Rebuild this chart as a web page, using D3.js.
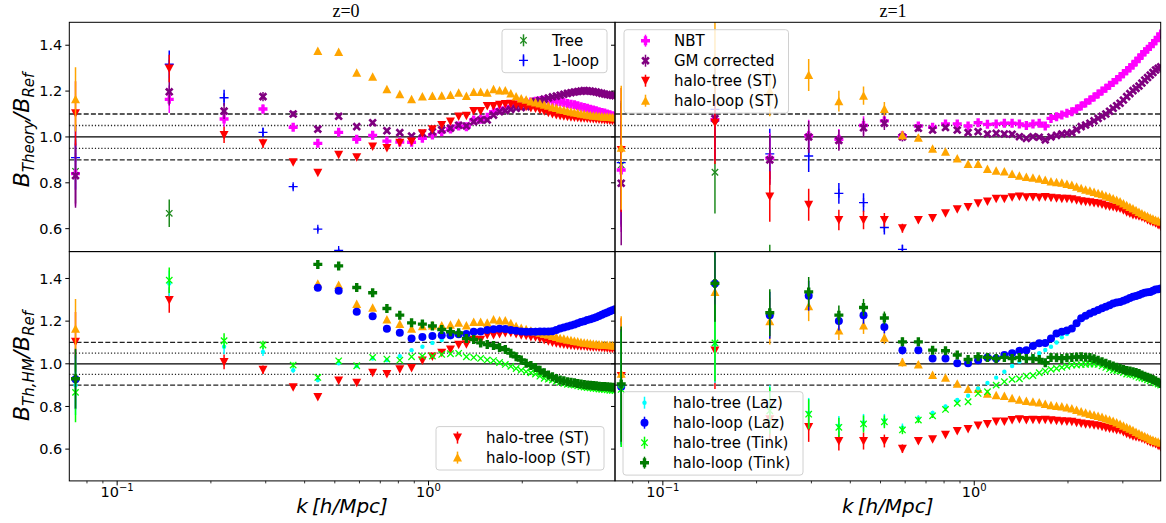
<!DOCTYPE html>
<html>
<head>
<meta charset="utf-8">
<script src="https://cdn.jsdelivr.net/npm/d3@7"></script>
<style>
  body { margin: 0; background: #fff; }
  svg { display: block; }
  text { font-family: "DejaVu Sans", sans-serif; fill: #000; }
</style>
</head>
<body>
<svg id="chart" width="1166" height="523"></svg>
<script>
// k bins (h/Mpc), multiples of the fundamental mode
const kBins = [0.0735, 0.147, 0.2205, 0.294, 0.3675, 0.441, 0.5145, 0.588, 0.6615, 0.735,
  0.8085, 0.882, 0.9555, 1.029, 1.1025, 1.176, 1.2495, 1.323, 1.3965, 1.47,
  1.5435, 1.617, 1.6905, 1.764, 1.8375, 1.911, 1.9845, 2.058, 2.1315, 2.205,
  2.2785, 2.352, 2.4255, 2.499, 2.5725, 2.646, 2.7195, 2.793, 2.8665, 2.94,
  3.0135, 3.087, 3.1605, 3.234, 3.3075, 3.381, 3.4545, 3.528, 3.6015, 3.675,
  3.7485, 3.822, 3.8955, 3.969];

// error bars (only the first bins are visible)
const errZ0 = [0.14, 0.06, 0.035, 0.02, 0.012, 0.01, 0.008, 0.006, 0.005, 0.004];
const errZ1 = [0.27, 0.18, 0.11, 0.07, 0.045, 0.04, 0.03, 0.02, 0.014, 0.01, 0.008, 0.006];

// ---- z = 0 ----
const tree0 = [0.85, 0.667];
const loop0 = [0.91, 1.317, 1.171, 1.02, 0.783, 0.598, 0.505];
const nbt0 = [0.84, 1.164, 1.078, 1.122, 1.042, 0.972, 1.02, 0.99, 1.007, 0.982,
  0.978, 0.977, 0.994, 1.009, 1.023, 1.035, 1.048, 1.045, 1.074, 1.077,
  1.086, 1.11, 1.118, 1.125, 1.133, 1.14, 1.145, 1.15, 1.152, 1.156,
  1.158, 1.16, 1.158, 1.157, 1.155, 1.153, 1.15, 1.146, 1.143, 1.14,
  1.136, 1.132, 1.128, 1.125, 1.121, 1.118, 1.114, 1.11, 1.107, 1.104,
  1.1, 1.097, 1.093, 1.088];
const gm0 = [0.831, 1.197, 1.113, 1.176, 1.1, 1.034, 1.09, 1.045, 1.062, 1.027,
  1.019, 1.004, 1.016, 1.023, 1.031, 1.038, 1.051, 1.048, 1.067, 1.074,
  1.074, 1.095, 1.11, 1.115, 1.12, 1.125, 1.128, 1.132, 1.145, 1.155,
  1.16, 1.165, 1.17, 1.175, 1.178, 1.182, 1.186, 1.19, 1.193, 1.196,
  1.198, 1.2, 1.202, 1.201, 1.2, 1.198, 1.196, 1.193, 1.19, 1.187,
  1.185, 1.183, 1.181, 1.18];
const htST0 = [1.103, 1.299, 1.009, 0.972, 0.89, 0.844, 0.922, 0.911, 0.958, 0.952,
  0.975, 0.98, 1.016, 1.034, 1.052, 1.067, 1.089, 1.092, 1.113, 1.113,
  1.135, 1.135, 1.14, 1.144, 1.145, 1.14, 1.134, 1.132, 1.126, 1.124,
  1.118, 1.112, 1.106, 1.1, 1.096, 1.093, 1.09, 1.088, 1.086, 1.085,
  1.084, 1.082, 1.082, 1.08, 1.079, 1.078, 1.077, 1.076, 1.075, 1.074,
  1.073, 1.072, 1.071, 1.07];
const hlST0 = [1.164, null, null, null, null, 1.375, 1.37, 1.28, 1.263, 1.208,
  1.186, 1.164, 1.176, 1.179, 1.18, 1.183, 1.193, 1.179, 1.196, 1.196,
  1.193, 1.208, 1.203, 1.203, 1.19, 1.176, 1.168, 1.162, 1.155, 1.15,
  1.146, 1.14, 1.136, 1.13, 1.126, 1.12, 1.117, 1.113, 1.11, 1.107,
  1.104, 1.101, 1.099, 1.097, 1.095, 1.093, 1.092, 1.09, 1.089, 1.088,
  1.088, 1.087, 1.086, 1.085];
const htLaz0 = [0.9, 1.377, 1.08, 1.056, 0.97, 0.924, 1.002, 0.989, 1.025, 1.017,
  1.036, 1.064, 1.08, 1.098, 1.111, 1.124, 1.132, 1.136, 1.145, 1.148,
  1.154, 1.158, 1.16, 1.16, 1.155, 1.152, 1.149, 1.147, 1.147, 1.147,
  1.148, 1.149, 1.15, 1.151, 1.156, 1.162, 1.167, 1.172, 1.177, 1.181,
  1.187, 1.193, 1.197, 1.202, 1.206, 1.21, 1.215, 1.221, 1.227, 1.233,
  1.238, 1.243, 1.248, 1.253];
const hlLaz0 = [0.927, null, null, null, null, 1.356, 1.342, 1.244, 1.223, 1.164,
  1.145, 1.119, 1.126, 1.13, 1.134, 1.134, 1.139, 1.14, 1.15, 1.152,
  1.158, 1.162, 1.164, 1.163, 1.158, 1.155, 1.152, 1.15, 1.15, 1.15,
  1.151, 1.152, 1.152, 1.153, 1.158, 1.165, 1.17, 1.175, 1.18, 1.184,
  1.19, 1.196, 1.2, 1.205, 1.209, 1.213, 1.218, 1.224, 1.23, 1.236,
  1.241, 1.246, 1.251, 1.256];
const htTink0 = [0.866, 1.392, 1.108, 1.088, 0.994, 0.936, 1.014, 0.991, 1.03, 1.022,
  1.017, 1.033, 1.036, 1.036, 1.044, 1.047, 1.049, 1.033, 1.03, 1.025,
  1.018, 1.015, 1.006, 0.997, 0.988, 0.978, 0.97, 0.963, 0.958, 0.952,
  0.942, 0.932, 0.928, 0.924, 0.918, 0.913, 0.908, 0.904, 0.902, 0.9,
  0.897, 0.893, 0.891, 0.889, 0.887, 0.885, 0.884, 0.882, 0.88, 0.879,
  0.878, 0.876, 0.875, 0.874];
const hlTink0 = [0.93, null, null, null, null, 1.466, 1.459, 1.358, 1.333, 1.259,
  1.228, 1.192, 1.186, 1.177, 1.161, 1.15, 1.145, 1.119, 1.114, 1.098,
  1.09, 1.086, 1.076, 1.067, 1.05, 1.033, 1.018, 1.002, 0.992, 0.983,
  0.97, 0.958, 0.948, 0.939, 0.931, 0.924, 0.92, 0.916, 0.913, 0.911,
  0.908, 0.905, 0.903, 0.901, 0.899, 0.898, 0.897, 0.895, 0.894, 0.893,
  0.892, 0.891, 0.89, 0.889];

// ---- z = 1 ----
const tree1 = [0.878, 0.846, 0.42];
const loop1 = [0.888, 1.12, 0.926, 0.917, 0.754, 0.714, 0.605, 0.51];
const nbt1 = [0.856, 1.075, 0.907, 1.005, 0.99, 1.05, 1.07, 1.005, 1.048, 1.042,
  1.057, 1.057, 1.048, 1.062, 1.055, 1.057, 1.06, 1.06, 1.057, 1.05,
  1.057, 1.06, 1.048, 1.081, 1.088, 1.096, 1.103, 1.11, 1.122, 1.135,
  1.148, 1.161, 1.174, 1.187, 1.2, 1.212, 1.225, 1.237, 1.25, 1.263,
  1.276, 1.289, 1.302, 1.314, 1.329, 1.343, 1.358, 1.372, 1.383, 1.394,
  1.407, 1.42, 1.434, 1.449];
const gm1 = [0.798, 1.08, 0.9, 1.0, 0.985, 1.04, 1.06, 1.0, 1.038, 1.03,
  1.041, 1.03, 1.019, 1.023, 1.013, 1.016, 1.013, 1.012, 1.001, 0.994,
  1.001, 0.999, 0.987, 1.0, 1.007, 1.013, 1.016, 1.019, 1.032, 1.045,
  1.052, 1.06, 1.07, 1.081, 1.09, 1.1, 1.112, 1.125, 1.136, 1.147,
  1.161, 1.176, 1.189, 1.202, 1.212, 1.222, 1.235, 1.248, 1.259, 1.27,
  1.281, 1.292, 1.299, 1.306];
const htST1 = [0.943, 1.062, 0.74, 0.704, 0.638, 0.638, 0.638, 0.602, 0.638, 0.646,
  0.667, 0.685, 0.694, 0.711, 0.718, 0.73, 0.73, 0.737, 0.74, 0.737,
  0.738, 0.736, 0.738, 0.735, 0.733, 0.731, 0.73, 0.728, 0.724, 0.72,
  0.717, 0.715, 0.712, 0.71, 0.705, 0.7, 0.697, 0.694, 0.69, 0.688,
  0.68, 0.672, 0.666, 0.66, 0.657, 0.654, 0.65, 0.645, 0.638, 0.632,
  0.628, 0.624, 0.616, 0.609];
const hlST1 = [0.953, 1.337, 1.2, 1.27, 1.156, 1.18, 1.122, 1.007, 0.997, 0.948,
  0.935, 0.906, 0.882, 0.882, 0.86, 0.853, 0.849, 0.838, 0.831, 0.825,
  0.822, 0.818, 0.812, 0.806, 0.802, 0.8, 0.795, 0.79, 0.783, 0.776,
  0.77, 0.765, 0.76, 0.755, 0.75, 0.744, 0.738, 0.732, 0.725, 0.718,
  0.71, 0.702, 0.695, 0.688, 0.68, 0.673, 0.666, 0.66, 0.654, 0.648,
  0.643, 0.638, 0.634, 0.63];
const htLaz1 = [0.88, 1.09, 0.79, 0.77, 0.71, 0.725, 0.735, 0.7, 0.745, 0.77,
  0.8, 0.83, 0.85, 0.885, 0.91, 0.935, 0.963, 0.99, 1.01, 1.025,
  1.036, 1.05, 1.065, 1.08, 1.1, 1.124, 1.14, 1.16, 1.185, 1.205,
  1.22, 1.231, 1.239, 1.247, 1.255, 1.262, 1.27, 1.278, 1.282, 1.285,
  1.291, 1.297, 1.303, 1.309, 1.313, 1.317, 1.323, 1.328, 1.33, 1.332,
  1.338, 1.343, 1.345, 1.348];
const hlLaz1 = [0.892, 1.377, 1.228, 1.319, 1.201, 1.228, 1.173, 1.064, 1.064, 1.025,
  1.025, 1.002, 1.002, 1.017, 1.03, 1.025, 1.041, 1.049, 1.061, 1.064,
  1.083, 1.096, 1.097, 1.119, 1.142, 1.15, 1.156, 1.166, 1.19, 1.213,
  1.225, 1.236, 1.244, 1.252, 1.26, 1.267, 1.275, 1.283, 1.287, 1.29,
  1.296, 1.302, 1.308, 1.314, 1.318, 1.322, 1.328, 1.333, 1.335, 1.337,
  1.343, 1.348, 1.35, 1.353];
const htTink1 = [0.88, 1.098, 0.78, 0.764, 0.702, 0.718, 0.728, 0.69, 0.736, 0.756,
  0.786, 0.815, 0.822, 0.861, 0.869, 0.9, 0.916, 0.927, 0.93, 0.942,
  0.945, 0.958, 0.966, 0.974, 0.978, 0.983, 0.988, 0.994, 0.994, 0.996,
  0.998, 0.999, 0.999, 0.997, 0.99, 0.983, 0.976, 0.97, 0.968, 0.966,
  0.959, 0.952, 0.95, 0.948, 0.942, 0.936, 0.933, 0.93, 0.925, 0.92,
  0.915, 0.911, 0.905, 0.9];
const hlTink1 = [0.905, 1.377, 1.239, 1.337, 1.228, 1.264, 1.215, 1.103, 1.103, 1.064,
  1.061, 1.041, 1.02, 1.033, 1.03, 1.025, 1.03, 1.025, 1.03, 1.025,
  1.025, 1.02, 1.005, 1.03, 1.028, 1.025, 1.028, 1.03, 1.032, 1.033,
  1.031, 1.03, 1.024, 1.017, 1.01, 1.002, 0.996, 0.99, 0.984, 0.978,
  0.973, 0.968, 0.966, 0.963, 0.959, 0.955, 0.948, 0.942, 0.937, 0.932,
  0.926, 0.92, 0.914, 0.908];

const yTicks = [0.6, 0.8, 1.0, 1.2, 1.4];
const refLines = [
  {v: 1.0, dash: null},
  {v: 1.05, dash: "1.2,2"}, {v: 0.95, dash: "1.2,2"},
  {v: 1.1, dash: "5,2.2"}, {v: 0.9, dash: "5,2.2"}
];

// marker shapes (path strings centred on 0,0)
const markerPath = {
  "x": "M-3.2,-3.2L3.2,3.2M-3.2,3.2L3.2,-3.2",
  "+": "M-4.5,0H4.5M0,-4.5V4.5",
  "P": "M-1.7,-4.5H1.7V-1.7H4.5V1.7H1.7V4.5H-1.7V1.7H-4.5V-1.7H-1.7Z",
  "X": "M0,-1.9L2.4,-4.3L4.3,-2.4L1.9,0L4.3,2.4L2.4,4.3L0,1.9L-2.4,4.3L-4.3,2.4L-1.9,0L-4.3,-2.4L-2.4,-4.3Z",
  "^": "M0,-4.5L4.5,4L-4.5,4Z",
  "v": "M0,4.5L4.5,-4L-4.5,-4Z",
  "o": "M4,0A4,4 0 1,1 -4,0A4,4 0 1,1 4,0Z",
  ".": "M2.2,0A2.2,2.2 0 1,1 -2.2,0A2.2,2.2 0 1,1 2.2,0Z"
};
const strokeOnly = {"x": true, "+": true};

const S = {
  tree:  {label: "Tree", color: "#1f8b1f", m: "x"},
  loop:  {label: "1-loop", color: "#0000ff", m: "+"},
  nbt:   {label: "NBT", color: "#ff00ff", m: "P"},
  gm:    {label: "GM corrected", color: "#800080", m: "X"},
  htST:  {label: "halo-tree (ST)", color: "#ff0000", m: "v"},
  hlST:  {label: "halo-loop (ST)", color: "#ffa500", m: "^"},
  htLaz: {label: "halo-tree (Laz)", color: "#00ffff", m: "."},
  hlLaz: {label: "halo-loop (Laz)", color: "#0000ff", m: "o"},
  htTink:{label: "halo-tree (Tink)", color: "#00ff00", m: "x"},
  hlTink:{label: "halo-loop (Tink)", color: "#007a00", m: "P"}
};

const PW = 545.7, PH = 229.3;
const panels = [
  {x0: 69.3, y0: 22.3, ydom: [0.5, 1.5], err: errZ0, yLab: true, xAxis: false,
   series: [[S.tree, tree0], [S.loop, loop0], [S.nbt, nbt0], [S.gm, gm0], [S.htST, htST0], [S.hlST, hlST0]],
   legend: {x: 502, y: 29.3, w: 105, rows: [S.tree, S.loop]}},
  {x0: 615, y0: 22.3, ydom: [0.5, 1.5], err: errZ1, yLab: false, xAxis: false,
   series: [[S.tree, tree1], [S.loop, loop1], [S.nbt, nbt1], [S.gm, gm1], [S.htST, htST1], [S.hlST, hlST1]],
   legend: {x: 624, y: 29.7, w: 164.5, rows: [S.nbt, S.gm, S.htST, S.hlST]}},
  {x0: 69.3, y0: 251.6, ydom: [0.451, 1.526], err: errZ0, yLab: true, xAxis: true,
   series: [[S.htST, htST0], [S.hlST, hlST0], [S.htLaz, htLaz0], [S.hlLaz, hlLaz0], [S.htTink, htTink0], [S.hlTink, hlTink0]],
   legend: {x: 436, y: 426.6, w: 168, rows: [S.htST, S.hlST]}},
  {x0: 615, y0: 251.6, ydom: [0.451, 1.526], err: errZ1, yLab: false, xAxis: true,
   series: [[S.htST, htST1], [S.hlST, hlST1], [S.htLaz, htLaz1], [S.hlLaz, hlLaz1], [S.htTink, htTink1], [S.hlTink, hlTink1]],
   legend: {x: 623, y: 391.7, w: 180, rows: [S.htLaz, S.hlLaz, S.htTink, S.hlTink]}}
];

const svg = d3.select("#chart");
svg.append("rect").attr("width", 1166).attr("height", 523).attr("fill", "#fff");

const x = d3.scaleLog().domain([0.0702, 3.97]).range([0, PW]);

function drawMarker(g, m, color, cx, cy) {
  const p = g.append("path").attr("d", markerPath[m])
    .attr("transform", `translate(${cx},${cy})`);
  if (strokeOnly[m]) p.attr("fill", "none").attr("stroke", color).attr("stroke-width", 1.3);
  else p.attr("fill", color);
}

panels.forEach((P, pi) => {
  const y = d3.scaleLinear().domain(P.ydom).range([PH, 0]);
  const g = svg.append("g").attr("transform", `translate(${P.x0},${P.y0})`);

  const clipId = "clip" + pi;
  g.append("clipPath").attr("id", clipId)
    .append("rect").attr("width", PW).attr("height", PH);

  // reference lines
  g.selectAll(".ref").data(refLines).join("line")
    .attr("x1", 0).attr("x2", PW)
    .attr("y1", d => y(d.v)).attr("y2", d => y(d.v))
    .attr("stroke", d => d.dash ? "#222" : "#000")
    .attr("stroke-width", 1.3)
    .attr("stroke-dasharray", d => d.dash);

  const data = g.append("g").attr("clip-path", `url(#${clipId})`);
  P.series.forEach(([s, vals]) => {
    const sg = data.append("g");
    const pts = vals.map((v, i) => ({k: kBins[i], v, e: P.err[i] || 0}))
      .filter(d => d.v !== null);
    sg.selectAll("line").data(pts.filter(d => d.e > 0)).join("line")
      .attr("x1", d => x(d.k)).attr("x2", d => x(d.k))
      .attr("y1", d => y(d.v - d.e)).attr("y2", d => y(d.v + d.e))
      .attr("stroke", s.color).attr("stroke-width", 1.5);
    pts.forEach(d => drawMarker(sg, s.m, s.color, x(d.k), y(d.v)));
  });

  // frame
  g.append("rect").attr("width", PW).attr("height", PH)
    .attr("fill", "none").attr("stroke", "#000").attr("stroke-width", 1);

  // y ticks
  const yt = g.append("g");
  yTicks.forEach(t => {
    yt.append("line").attr("x1", -4).attr("x2", 0).attr("y1", y(t)).attr("y2", y(t))
      .attr("stroke", "#000").attr("stroke-width", 1);
    if (P.yLab) {
      yt.append("text").attr("x", -7).attr("y", y(t)).attr("dy", "0.35em")
        .attr("text-anchor", "end").attr("font-size", 14.5).text(t.toFixed(1));
    }
  });

  // x ticks on bottom panels
  if (P.xAxis) {
    const xt = g.append("g").attr("transform", `translate(0,${PH})`);
    const minors = [0.08, 0.09, 0.2, 0.3, 0.4, 0.5, 0.6, 0.7, 0.8, 0.9, 2, 3];
    minors.forEach(t => xt.append("line").attr("x1", x(t)).attr("x2", x(t))
      .attr("y1", 0).attr("y2", 2.5).attr("stroke", "#000").attr("stroke-width", 0.8));
    [[0.1, "\u22121"], [1, "0"]].forEach(([t, ex]) => {
      xt.append("line").attr("x1", x(t)).attr("x2", x(t)).attr("y1", 0).attr("y2", 4.5)
        .attr("stroke", "#000").attr("stroke-width", 1);
      const tx = xt.append("text").attr("x", x(t)).attr("y", 16.5)
        .attr("text-anchor", "middle").attr("font-size", 14.5);
      tx.append("tspan").text("10");
      tx.append("tspan").attr("font-size", 10).attr("dy", -6).text(ex);
    });
    const xl = g.append("text").attr("x", PW / 2).attr("y", PH + 32)
      .attr("text-anchor", "middle").attr("font-size", 20).attr("font-style", "italic");
    xl.append("tspan").text("k\u2009[h/Mpc]");
  }
});

// y labels
function yLabel(cy, sub1, sub2) {
  const t = svg.append("text").attr("transform", `translate(29,${cy}) rotate(-90)`)
    .attr("text-anchor", "middle").attr("font-size", 22).attr("font-style", "italic");
  t.append("tspan").text("B");
  t.append("tspan").attr("font-size", 15).attr("dy", 5).text(sub1);
  t.append("tspan").attr("dy", -5).text("/B");
  t.append("tspan").attr("font-size", 15).attr("dy", 5).text(sub2);
}
yLabel(130, "Theory", "Ref");
yLabel(366, "Th,HM", "Ref");

// titles
[["z=0", 346], ["z=1", 893]].forEach(([txt, cx]) => {
  svg.append("text").attr("x", cx).attr("y", 17).attr("text-anchor", "middle")
    .style("font-family", "'Liberation Serif', 'DejaVu Serif', serif")
    .attr("font-size", 18).text(txt);
});

// legends
panels.forEach(P => {
  const L = P.legend;
  const h = L.rows.length * 20 + 3.4;
  const lg = svg.append("g");
  lg.append("rect").attr("x", L.x).attr("y", L.y).attr("width", L.w).attr("height", h)
    .attr("rx", 3).attr("fill", "#fff").attr("fill-opacity", 0.8)
    .attr("stroke", "#d0d0d0").attr("stroke-width", 1);
  L.rows.forEach((s, i) => {
    const cy = L.y + 11 + i * 20;
    const mx = L.x + 21.5;
    lg.append("line").attr("x1", mx).attr("x2", mx).attr("y1", cy - 6).attr("y2", cy + 6)
      .attr("stroke", s.color).attr("stroke-width", 1.5);
    drawMarker(lg, s.m, s.color, mx, cy);
    lg.append("text").attr("x", L.x + 50).attr("y", cy).attr("dy", "0.35em")
      .attr("font-size", 15).text(s.label);
  });
});
</script>
</body>
</html>
